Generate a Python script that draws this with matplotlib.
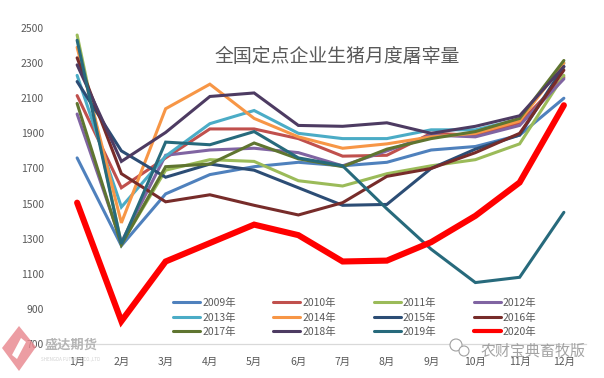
import matplotlib
matplotlib.use('Agg')
import matplotlib.pyplot as plt
from matplotlib.patches import Polygon, Circle

plt.rcParams['font.family'] = ['Noto Sans CJK SC', 'DejaVu Sans']

months = ['1月', '2月', '3月', '4月', '5月', '6月', '7月', '8月', '9月', '10月', '11月', '12月']
y_ticks = [700, 900, 1100, 1300, 1500, 1700, 1900, 2100, 2300, 2500]

y2009 = [1760, 1260, 1555, 1665, 1710, 1735, 1715, 1735, 1805, 1825, 1890, 2100]
y2010 = [2115, 1590, 1760, 1925, 1925, 1870, 1770, 1775, 1900, 1890, 1960, 2220]
y2011 = [2460, 1270, 1690, 1750, 1740, 1630, 1600, 1670, 1715, 1750, 1840, 2230]
y2012 = [2010, 1280, 1775, 1805, 1815, 1790, 1715, 1800, 1890, 1880, 1945, 2210]
y2013 = [2230, 1480, 1770, 1955, 2030, 1900, 1870, 1870, 1920, 1920, 1980, 2300]
y2014 = [2390, 1390, 2040, 2180, 1985, 1880, 1815, 1840, 1880, 1900, 1970, 2300]
y2015 = [2195, 1800, 1650, 1725, 1690, 1590, 1490, 1495, 1700, 1810, 1890, 2280]
y2016 = [2330, 1670, 1510, 1550, 1490, 1435, 1505, 1655, 1700, 1790, 1900, 2260]
y2017 = [2070, 1265, 1710, 1725, 1845, 1755, 1710, 1810, 1870, 1910, 1985, 2315]
y2018 = [2290, 1740, 1905, 2110, 2130, 1945, 1940, 1960, 1900, 1940, 2000, 2280]
y2019 = [2430, 1270, 1850, 1835, 1910, 1760, 1715, 1470, 1240, 1050, 1080, 1450]
y2020 = [1505, 830, 1170, 1275, 1380, 1320, 1170, 1175, 1280, 1430, 1620, 2060]

series = [
    ('2009年', y2009, '#4f81bd', 2.2),
    ('2010年', y2010, '#c0504d', 2.2),
    ('2011年', y2011, '#9bbb59', 2.2),
    ('2012年', y2012, '#8064a2', 2.2),
    ('2013年', y2013, '#4bacc6', 2.2),
    ('2014年', y2014, '#f79646', 2.2),
    ('2015年', y2015, '#2c4d75', 2.2),
    ('2016年', y2016, '#772c2a', 2.2),
    ('2017年', y2017, '#5f7530', 2.2),
    ('2018年', y2018, '#4d3b62', 2.2),
    ('2019年', y2019, '#276a7c', 2.2),
    ('2020年', y2020, '#ff0000', 4.4),
]

W, H = 604, 378
fig = plt.figure(figsize=(W / 100, H / 100), dpi=100)
ax = fig.add_axes([55 / W, 1 - 344 / H, 531 / W, 316 / H])

x = list(range(len(months)))
lines = []
for name, vals, color, lw in series:
    l, = ax.plot(x, vals, color=color, lw=lw, label=name, solid_capstyle='round', solid_joinstyle='miter')
    lines.append(l)

ax.set_xlim(-0.5, 11.5)
ax.set_ylim(700, 2500)
ax.set_xticks(x)
ax.set_xticklabels(months)
ax.set_yticks(y_ticks)
ax.tick_params(length=0, labelsize=7.5, labelcolor='#595959')
ax.tick_params(axis='x', pad=9)
ax.tick_params(axis='y', pad=8)
for s in ['top', 'left', 'right']:
    ax.spines[s].set_visible(False)
ax.spines['bottom'].set_color('#d9d9d9')
ax.spines['bottom'].set_linewidth(0.9)

# matplotlib fills legend columns first, the picture reads by rows
order = [0, 4, 8, 1, 5, 9, 2, 6, 10, 3, 7, 11]
leg = ax.legend([lines[i] for i in order], [series[i][0] for i in order],
                ncol=4, frameon=False, fontsize=7.5, labelcolor='#595959',
                handlelength=2.6, handletextpad=0.2, columnspacing=3.6, labelspacing=0.42,
                borderpad=0, borderaxespad=0,
                loc='lower left', bbox_to_anchor=(173 / W, 1 - 337 / H), bbox_transform=fig.transFigure)
leg.legend_handles[-1].set_linewidth(3)

fig.text(337 / W, 1 - 56 / H, '全国定点企业生猪月度屠宰量', ha='center', va='center',
         fontsize=13.6, color='#595959', fontweight='medium')

# watermarks
fig.add_artist(Polygon([(19 / W, 1 - 326 / H), (36 / W, 1 - 347 / H), (19 / W, 1 - 371 / H), (2 / W, 1 - 348 / H)],
                       closed=True, transform=fig.transFigure, fc='#e8858c', ec='none', alpha=0.8))
fig.add_artist(Polygon([(21 / W, 1 - 338 / H), (26 / W, 1 - 342 / H), (17 / W, 1 - 359 / H), (12 / W, 1 - 355 / H)],
                       closed=True, transform=fig.transFigure, fc='white', ec='none'))
fig.text(71 / W, 1 - 345 / H, '盛达期货', ha='center', va='center', fontsize=9.5, color='#b5b5b5', fontweight='bold')
fig.text(71 / W, 1 - 359 / H, 'SHENGDA FUTURES CO.,LTD', ha='center', va='center', fontsize=3.2, color='#d0d0d0')
fig.text(533 / W, 1 - 351 / H, '农财宝典畜牧版', ha='center', va='center', fontsize=10.8, color='#8c8c8c', alpha=0.8)
for cx, cy, r in [(456, 345, 6), (464, 351, 5)]:
    fig.add_artist(Circle((cx, H - cy), r, transform=None, fc='white', ec='#a0a0a0', lw=0.8))

plt.savefig('out.png', dpi=100)
